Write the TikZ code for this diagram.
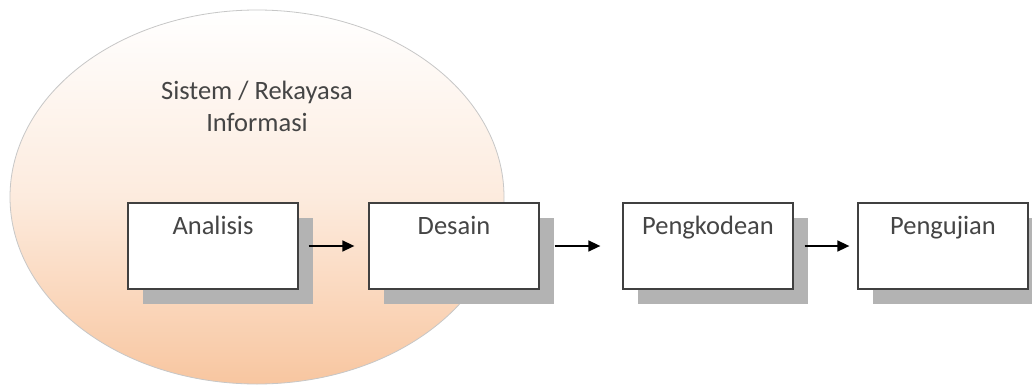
\documentclass[tikz,border=0pt]{standalone}
\usepackage{fontspec}
\setmainfont{Carlito}
\usetikzlibrary{arrows.meta,shadows}
\definecolor{peach}{HTML}{F8C6A0}
\definecolor{txt}{HTML}{454545}
\definecolor{shadowgray}{HTML}{B3B3B3}
\tikzset{
  stagebox/.style={draw=black!75, line width=1.3pt, fill=white, minimum width=170pt, minimum height=86pt,
    inner sep=0pt, drop shadow={shadow xshift=15pt, shadow yshift=-15pt, fill=shadowgray, opacity=1}},
  stagelabel/.style={font=\fontsize{26.5}{30}\selectfont, text=txt, anchor=north},
  flow/.style={-{Triangle[length=12pt,width=11pt]}, line width=1.6pt, black}
}
\begin{document}
\begin{tikzpicture}[x=1pt,y=-1pt]
\useasboundingbox (0,0) rectangle (1032,385);
\fill[white] (0,0) rectangle (1032,385);
% ellipse
\shade[top color=white, bottom color=peach, middle color=peach!35] (257,197) ellipse [x radius=247, y radius=187];
\draw[black!22, line width=0.8pt] (257,197) ellipse [x radius=247, y radius=187];
\node[font=\fontsize{26.5}{32}\selectfont, text=txt, align=center] (title) at (257,106) {Sistem / Rekayasa\\Informasi};
% boxes
\node[stagebox] (analisis) at (213,246) {};
\node[stagebox] (desain) at (454,246) {};
\node[stagebox] (kode) at (708,246) {};
\node[stagebox] (uji) at (943,246) {};
\node[stagelabel] (l1) at ([yshift=-10pt]analisis.north) {Analisis};
\node[stagelabel] (l2) at ([yshift=-10pt]desain.north) {Desain};
\node[stagelabel] (l3) at ([yshift=-10pt]kode.north) {Pengkodean};
\node[stagelabel] (l4) at ([yshift=-10pt]uji.north) {Pengujian};
% arrows
\draw[flow] ([xshift=10pt]analisis.east) -- ([xshift=-14pt]desain.west);
\draw[flow] ([xshift=15pt]desain.east) -- ([xshift=-22pt]kode.west);
\draw[flow] ([xshift=11pt]kode.east) -- ([xshift=-8pt]uji.west);
\end{tikzpicture}
\end{document}
